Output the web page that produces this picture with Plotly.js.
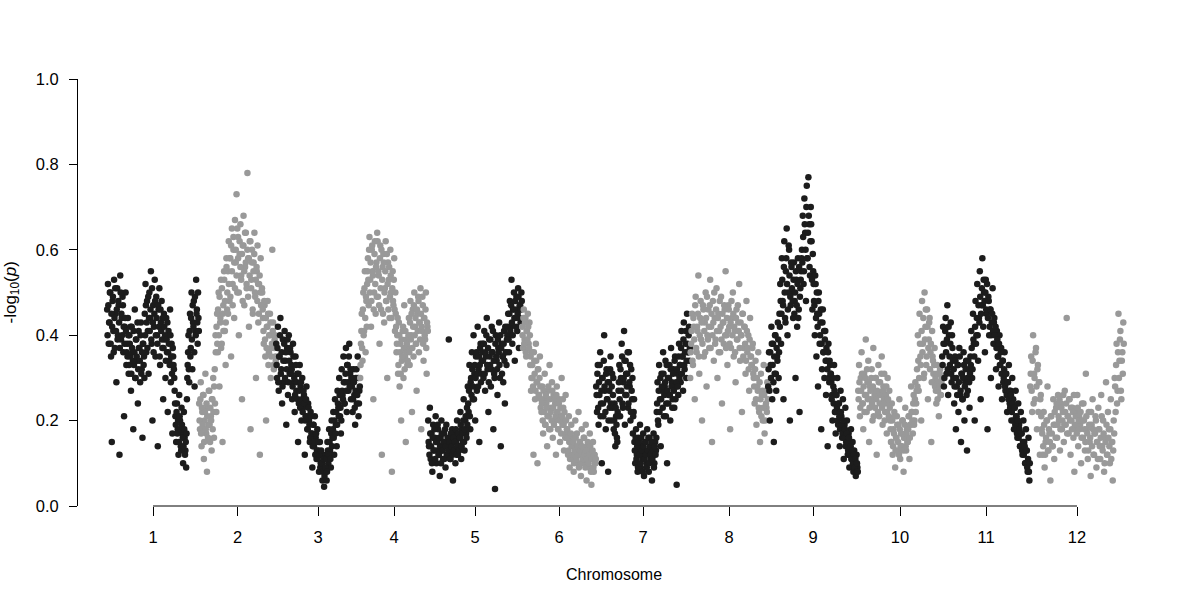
<!DOCTYPE html>
<html>
<head>
<meta charset="utf-8">
<script src="https://cdn.plot.ly/plotly-3.0.1.min.js"></script>
<style>
  html, body { margin: 0; padding: 0; background: #fff; }
  #chart { width: 1197px; height: 604px; }
</style>
</head>
<body>
<div id="chart"></div>
<script>
/* ── Manhattan plot: -log10(p) per SNP, 12 chromosomes ── */

const chrNames = ["1", "2", "3", "4", "5", "6", "7", "8", "9", "10", "11", "12"];
const chrLen   = [92, 77, 84, 68, 94, 74, 94, 78, 90, 84, 88, 94];

// -log10(p), first pass of SNPs (band edges + stray points), in chromosome order
const chr1 = [0.46,0.52,0.38,0.43,0.50,0.35,0.15,0.48,0.41,0.53,0.37,0.45,0.29,0.51,0.40,0.47,0.12,0.54,0.39,0.44,0.49,0.36,0.21,0.42,0.50,0.33,
  0.38,0.44,0.31,0.40,0.35,0.27,0.42,0.36,0.18,0.33,0.46,0.30,0.39,0.34,0.24,0.41,0.37,0.29,0.43,0.32,0.16,0.38,0.35,
  0.45,0.52,0.36,0.48,0.41,0.31,0.50,0.44,0.55,0.38,0.20,0.47,0.42,0.53,0.35,0.49,0.40,0.14,0.46,0.51,0.33,0.43,0.48,0.37,0.25,0.45,0.39,0.30,0.44,0.36,0.22,0.41,0.34,0.46,0.29,0.38,0.17,0.35,0.32,
  0.27,0.21,0.15,0.24,0.18,0.12,0.26,0.20,0.14,0.23,0.17,0.10,0.22,0.16,0.13,0.09,
  0.25,0.33,0.40,0.29,0.45,0.37,0.50,0.32,0.43,0.48,0.28,0.41,0.53,0.46,0.38,0.44];
const chr2 = [0.24,0.18,0.29,0.14,0.22,0.26,0.11,0.20,0.31,0.17,0.08,0.23,0.19,0.27,0.15,0.21,0.13,0.25,0.30,0.16,
  0.32,0.40,0.22,0.45,0.36,0.50,0.28,0.43,0.53,0.38,0.15,0.47,0.55,0.41,0.33,0.58,0.46,
  0.55,0.62,0.48,0.58,0.35,0.65,0.52,0.60,0.44,0.67,0.57,0.73,0.50,0.63,0.40,0.59,0.66,0.54,0.25,0.61,0.68,0.47,0.56,0.64,0.51,0.78,0.58,0.42,0.62,0.18,0.53,0.60,0.45,0.57,0.64,0.49,0.30,0.55,0.61,0.43,0.52,0.12,0.58,0.47,
  0.50,0.44,0.38,0.47,0.35,0.20,0.42,0.48,0.33,0.40,0.45,0.30,0.37,0.60,0.43,0.32,0.39,0.35];
const chr3 = [0.38,0.30,0.42,0.27,0.35,0.44,0.32,0.24,0.39,0.29,0.41,0.34,0.19,0.37,0.26,0.40,0.31,0.36,
  0.33,0.25,0.38,0.29,0.22,0.35,0.27,0.31,0.15,0.24,0.33,0.28,0.20,0.30,0.23,0.26,0.12,0.21,0.28,0.18,0.24,0.20,0.15,0.22,0.17,0.09,0.19,0.14,0.21,0.16,0.11,0.18,0.13,0.08,0.15,0.10,0.12,0.06,0.09,0.045,
  0.08,0.12,0.06,0.15,0.10,0.18,0.13,0.09,0.20,0.16,0.22,0.12,0.25,0.19,0.14,0.27,0.23,0.30,0.21,0.17,0.32,0.26,0.35,0.24,0.29,0.37,0.22,0.33,0.27,0.38,0.31,0.25,
  0.28,0.22,0.32,0.26,0.19,0.30,0.24,0.35,0.21,0.27];
const chr4 = [0.30,0.38,0.45,0.34,0.50,0.41,0.55,0.36,0.48,0.52,
  0.58,0.47,0.63,0.53,0.42,0.60,0.55,0.25,0.50,0.62,0.45,0.57,0.64,0.49,0.54,0.38,0.61,0.46,0.12,0.56,0.59,0.43,0.51,0.62,0.48,0.30,0.57,0.53,0.44,0.60,0.50,0.08,0.55,0.47,0.58,0.41,
  0.45,0.36,0.40,0.31,0.43,0.28,0.38,0.20,0.34,0.41,0.30,0.47,0.35,0.15,0.39,0.33,
  0.37,0.44,0.33,0.48,0.40,0.22,0.46,0.35,0.50,0.42,0.38,0.27,0.45,0.49,0.36,0.43,0.51,0.18,0.41,0.47,0.34,0.44,0.39,0.50,0.31,0.42];
const chr5 = [0.20,0.14,0.23,0.11,0.17,0.08,0.19,0.13,0.16,0.21,0.10,0.15,0.18,0.12,0.07,0.16,0.20,0.13,0.11,0.17,0.14,0.09,0.19,0.15,0.12,0.39,0.16,0.11,0.14,0.18,0.06,0.13,0.17,0.10,0.15,0.20,0.12,0.16,0.14,0.22,0.11,0.18,0.15,0.25,0.13,0.20,0.17,0.23,
  0.28,0.22,0.33,0.18,0.30,0.36,0.25,0.40,0.31,0.20,0.35,0.27,0.42,0.32,0.15,0.37,0.29,0.34,
  0.38,0.30,0.41,0.27,0.35,0.44,0.32,0.22,0.39,0.33,0.28,0.42,0.36,0.18,0.31,0.04,0.40,0.34,0.26,0.37,0.43,0.30,0.14,0.38,0.35,0.29,0.41,0.24,0.36,0.33,
  0.40,0.45,0.36,0.48,0.42,0.53,0.38,0.46,0.50,0.34,0.44,0.49,0.41,0.51,0.37,0.47,0.43,0.50];
const chr6 = [0.42,0.37,0.46,0.39,0.44,0.35,0.41,0.45,0.38,0.43,
  0.33,0.27,0.36,0.30,0.12,0.34,0.25,0.38,0.29,0.10,0.32,0.26,0.35,0.23,
  0.22,0.28,0.17,0.25,0.31,0.19,0.24,0.14,0.27,0.21,0.33,0.18,0.23,0.29,0.16,0.26,0.20,0.24,0.12,0.28,0.22,0.18,0.25,0.15,0.21,0.30,0.19,0.23,0.13,0.20,0.26,0.17,
  0.18,0.12,0.21,0.09,0.15,0.19,0.11,0.16,0.08,0.14,0.20,0.13,0.17,0.10,0.22,0.12,0.15,0.07,0.18,0.13,0.10,0.16,0.11,0.19,0.06,0.14,0.12,0.09,0.17,0.13,0.05,0.11,0.15,0.08,0.12,0.10];
const chr7 = [0.28,0.22,0.33,0.19,0.26,0.36,0.24,0.10,0.30,0.21,0.40,0.27,0.18,0.32,0.25,0.08,0.29,0.23,0.35,0.20,0.31,0.26,
  0.18,0.24,0.14,0.21,0.16,0.22,
  0.27,0.33,0.21,0.30,0.38,0.24,0.29,0.41,0.19,0.34,0.26,0.31,0.23,0.36,0.28,0.20,0.32,0.25,0.17,0.22,
  0.15,0.10,0.18,0.12,0.08,0.16,0.13,0.19,0.09,0.14,0.11,0.17,0.07,0.12,0.15,0.10,0.18,0.13,0.08,0.16,0.11,0.14,0.06,0.12,0.17,0.10,0.15,0.13,
  0.22,0.29,0.19,0.33,0.25,0.14,0.31,0.27,0.36,0.21,0.28,0.34,0.24,0.10,0.30,0.26,0.33,0.20,0.37,0.29,0.25,0.32,0.23,0.35,0.28,0.05,0.31,0.26,0.38,0.33,0.29,0.41,0.35,0.27,0.43,0.32,0.38,0.30,0.45,0.36,0.40,0.34];
const chr8 = [0.30,0.38,0.45,0.33,0.42,0.25,0.49,0.36,0.41,0.54,0.31,0.44,0.39,0.20,0.47,0.35,0.43,0.50,0.28,0.40,0.46,0.37,0.53,0.42,0.15,0.48,0.34,0.44,0.39,0.51,0.30,0.45,0.41,0.36,0.49,0.24,0.43,0.38,0.46,0.55,0.40,0.33,0.47,0.42,0.18,0.37,0.44,0.50,0.35,0.41,0.29,0.46,0.39,0.43,0.52,0.34,0.40,0.22,0.45,0.37,0.42,0.31,0.48,0.36,0.40,0.27,0.44,0.35,0.33,0.38,
  0.30,0.24,0.34,0.19,0.28,0.36,0.22,0.15,0.31,0.26,0.20,0.33,0.17,0.27,0.23,0.29];
const chr9 = [0.28,0.36,0.20,0.33,0.42,0.25,0.38,0.15,0.31,0.40,0.27,0.35,0.43,0.30,
  0.45,0.52,0.38,0.58,0.48,0.25,0.62,0.44,0.55,0.65,0.40,0.50,0.60,0.20,0.47,0.56,
  0.50,0.44,0.57,0.48,0.30,0.53,0.42,0.58,0.46,0.22,0.51,0.55,
  0.60,0.68,0.52,0.72,0.64,0.48,0.75,0.58,0.77,0.66,0.54,0.70,0.62,0.46,
  0.55,0.48,0.40,0.52,0.35,0.45,0.28,0.50,0.38,0.43,0.18,0.32,0.46,0.36,0.30,0.41,0.26,0.34,0.14,0.38,0.29,0.33,
  0.31,0.25,0.20,0.28,0.33,0.22,0.17,0.26,0.30,0.19,0.24,0.14,0.27,0.21,0.16,0.25,0.11,0.19,0.23,0.15,0.20,0.12,0.17,0.09,0.14,0.18,0.11,0.15,0.08,0.13,0.10,0.07,0.12,0.09];
const chr10 = [0.27,0.33,0.21,0.30,0.36,0.24,0.18,0.31,0.26,0.39,0.22,0.29,0.34,0.15,0.28,0.25,0.32,0.20,0.37,0.27,0.23,0.30,0.12,0.26,0.33,0.21,0.29,0.24,0.35,0.19,0.28,0.31,0.22,0.26,0.17,0.30,0.24,0.27,
  0.20,0.15,0.24,0.12,0.18,0.22,0.09,0.16,0.21,0.13,0.19,0.25,0.11,0.17,0.14,0.20,0.08,0.16,0.23,0.13,0.18,0.15,0.21,0.11,0.19,0.28,
  0.22,0.17,0.26,0.20,0.29,0.24,
  0.32,0.40,0.27,0.45,0.35,0.20,0.48,0.38,0.30,0.50,0.42,0.33,0.46,0.25,0.39,0.44,0.36,0.15,0.41,0.34,0.29,0.37,
  0.30,0.24,0.33,0.27,0.21,0.31,0.26,0.29];
const chr11 = [0.35,0.42,0.28,0.38,0.44,0.31,0.47,0.26,0.40,0.33,0.43,0.29,0.37,
  0.30,0.24,0.35,0.18,0.28,0.33,0.22,0.37,0.26,0.15,0.31,0.25,0.36,0.20,0.29,0.34,0.13,0.27,0.32,0.23,
  0.35,0.41,0.30,0.45,0.38,0.20,0.48,0.40,0.52,0.34,0.44,0.55,0.25,0.47,0.58,0.42,0.50,0.36,0.53,0.45,0.18,0.49,0.40,0.46,0.30,0.43,0.51,0.38,
  0.44,0.38,0.32,0.41,0.35,0.28,0.40,0.33,0.37,0.25,0.34,0.30,0.36,0.27,0.31,0.22,0.29,0.33,0.24,0.27,0.20,0.30,0.25,0.18,0.23,0.27,0.21,0.16,0.24,0.19,0.14,0.22,0.17,0.12,0.20,0.15,0.10,0.18,0.13,0.08,0.16,0.06];
const chr12 = [0.28,0.35,0.22,0.40,0.31,0.25,0.37,0.18,0.33,0.29,0.12,0.26,
  0.18,0.12,0.22,0.09,0.15,0.20,0.28,0.13,0.17,0.06,0.21,0.14,0.25,0.11,0.19,0.23,0.16,0.26,0.20,0.13,0.24,0.18,0.22,0.15,0.27,0.19,0.44,0.21,0.17,0.25,0.12,0.20,0.23,0.16,0.08,0.22,0.18,0.26,0.14,0.21,0.19,0.10,0.24,0.16,0.20,0.13,0.31,0.18,0.11,0.22,0.15,0.07,0.19,0.25,0.12,0.17,0.21,0.09,0.15,0.23,0.18,0.11,0.26,0.14,0.20,0.08,0.16,0.29,0.12,0.22,0.18,0.10,0.25,0.15,0.06,0.20,
  0.30,0.22,0.38,0.27,0.45,0.34,0.41,0.25,0.36,0.43];

// second pass of SNPs (dense core of each band), same chromosome order
const chr1b = [0.40,0.47,0.43,0.50,0.38,0.45,0.42,0.49,0.36,0.44,0.51,0.41,0.46,0.39,0.48,0.43,0.37,0.50,0.45,0.40,0.47,0.42,0.38,0.44,0.41,0.36,
  0.35,0.40,0.33,0.38,0.42,0.31,0.37,0.34,0.41,0.36,0.30,0.39,0.35,0.43,0.32,0.37,0.34,0.40,0.31,0.36,0.38,0.33,0.30,
  0.40,0.47,0.43,0.37,0.49,0.44,0.41,0.46,0.39,0.51,0.43,0.36,0.45,0.48,0.40,0.44,0.38,0.47,0.42,0.35,0.46,0.41,0.39,0.44,0.37,0.42,0.40,0.34,0.39,0.43,0.36,0.38,0.33,0.40,0.35,0.31,0.37,0.33,0.30,
  0.24,0.19,0.22,0.17,0.20,0.15,0.21,0.18,0.13,0.19,0.16,0.14,0.18,0.12,0.15,0.17,
  0.30,0.36,0.32,0.41,0.35,0.44,0.39,0.47,0.42,0.36,0.49,0.40,0.45,0.43,0.50,0.41];
const chr2b = [0.20,0.25,0.17,0.23,0.19,0.26,0.15,0.22,0.18,0.24,0.21,0.16,0.27,0.19,0.23,0.20,0.25,0.18,0.22,0.28,0.24,
  0.36,0.42,0.38,0.46,0.40,0.49,0.44,0.37,0.51,0.45,0.41,0.53,0.48,0.43,0.56,0.50,0.45,
  0.52,0.58,0.49,0.61,0.55,0.47,0.63,0.57,0.51,0.60,0.54,0.65,0.58,0.50,0.62,0.56,0.53,0.59,0.48,0.61,0.55,0.64,0.57,0.52,0.60,0.49,0.58,0.54,0.62,0.51,0.57,0.46,0.55,0.59,0.50,0.53,0.56,0.48,0.52,0.45,0.54,0.50,0.47,0.51,
  0.46,0.41,0.48,0.39,0.44,0.37,0.42,0.45,0.36,0.40,0.43,0.35,0.38,0.41,0.33,0.37,0.40,0.34];
const chr3b = [0.33,0.37,0.29,0.35,0.40,0.31,0.36,0.28,0.34,0.38,0.30,0.36,0.32,0.39,0.29,0.34,0.37,0.31,
  0.32,0.28,0.35,0.30,0.26,0.33,0.29,0.25,0.31,0.27,0.23,0.29,0.25,0.22,0.27,0.24,0.20,0.25,0.21,0.18,0.23,0.19,0.16,0.21,0.17,0.14,0.19,0.15,0.12,0.17,0.13,0.11,0.15,0.12,0.09,0.13,0.10,0.08,0.11,0.07,
  0.09,0.11,0.08,0.13,0.12,0.15,0.11,0.17,0.14,0.18,0.16,0.20,0.17,0.22,0.19,0.24,0.21,0.26,0.23,0.20,0.27,0.25,0.29,0.24,0.31,0.27,0.33,0.29,0.35,0.28,0.32,0.30,
  0.30,0.25,0.29,0.23,0.27,0.32,0.26,0.30,0.24,0.28];
const chr4b = [0.33,0.41,0.37,0.46,0.40,0.51,0.44,0.49,0.42,0.55,
  0.53,0.60,0.50,0.57,0.48,0.61,0.54,0.46,0.59,0.52,0.56,0.49,0.62,0.55,0.47,0.58,0.51,0.60,0.53,0.45,0.57,0.50,0.55,0.48,0.59,0.52,0.46,0.56,0.49,0.54,0.44,0.51,0.48,0.53,0.46,0.50,
  0.42,0.38,0.44,0.33,0.40,0.36,0.31,0.39,0.35,0.42,0.37,0.32,0.41,0.36,0.38,0.34,
  0.40,0.36,0.43,0.39,0.45,0.37,0.42,0.47,0.40,0.44,0.38,0.46,0.41,0.48,0.43,0.39,0.45,0.42,0.49,0.38,0.44,0.40,0.46,0.37,0.43,0.41];
const chr5b = [0.15,0.12,0.17,0.14,0.10,0.16,0.13,0.18,0.11,0.15,0.13,0.19,0.12,0.16,0.14,0.10,0.17,0.13,0.15,0.11,0.18,0.14,0.12,0.16,0.13,0.15,0.11,0.17,0.14,0.12,0.16,0.13,0.15,0.18,0.12,0.14,0.17,0.13,0.16,0.19,0.14,0.17,0.20,0.15,0.18,0.21,0.16,0.19,
  0.24,0.27,0.21,0.29,0.26,0.32,0.28,0.25,0.33,0.30,0.36,0.31,0.28,0.35,0.33,0.38,0.31,0.36,
  0.34,0.38,0.31,0.36,0.40,0.33,0.37,0.29,0.35,0.39,0.32,0.36,0.41,0.34,0.30,0.38,0.35,0.32,0.39,0.36,0.33,0.40,0.37,0.31,0.35,0.38,0.34,0.42,0.36,0.39,
  0.42,0.39,0.45,0.41,0.47,0.43,0.40,0.46,0.44,0.48,0.42,0.46,0.45,0.49,0.44,0.47,0.46,0.48];
const chr6b = [0.40,0.44,0.38,0.43,0.36,0.41,0.39,0.42,0.37,0.40,
  0.35,0.30,0.33,0.28,0.36,0.31,0.27,0.34,0.29,0.32,0.26,0.30,0.28,0.25,
  0.24,0.20,0.27,0.22,0.19,0.26,0.23,0.21,0.28,0.18,0.25,0.22,0.20,0.27,0.23,0.19,0.25,0.21,0.26,0.22,0.18,0.24,0.20,0.23,0.17,0.21,0.25,0.19,0.22,0.16,0.20,0.18,
  0.16,0.13,0.15,0.11,0.17,0.14,0.12,0.15,0.10,0.13,0.16,0.11,0.14,0.12,0.09,0.15,0.13,0.10,0.14,0.11,0.16,0.12,0.09,0.13,0.11,0.15,0.10,0.12,0.14,0.08,0.11,0.13,0.09,0.12,0.10,0.11];
const chr7b = [0.26,0.31,0.23,0.29,0.33,0.21,0.27,0.30,0.24,0.34,0.28,0.22,0.31,0.25,0.29,0.20,0.27,0.32,0.24,0.28,0.23,0.30,
  0.20,0.17,0.23,0.19,0.15,0.21,
  0.29,0.25,0.32,0.27,0.35,0.23,0.30,0.34,0.26,0.31,0.28,0.36,0.24,0.29,0.33,0.22,0.27,0.30,0.21,0.25,
  0.13,0.16,0.11,0.14,0.09,0.15,0.12,0.10,0.16,0.13,0.08,0.14,0.11,0.15,0.12,0.09,0.13,0.16,0.10,0.14,0.12,0.15,0.11,0.13,0.09,0.14,0.12,0.16,
  0.24,0.20,0.27,0.22,0.30,0.25,0.28,0.23,0.31,0.26,0.29,0.21,0.33,0.27,0.24,0.30,0.26,0.32,0.28,0.23,0.31,0.27,0.34,0.25,0.29,0.32,0.28,0.35,0.30,0.33,0.37,0.31,0.35,0.39,0.33,0.36,0.41,0.34,0.38,0.36,0.42,0.37];
const chr8b = [0.36,0.41,0.34,0.44,0.39,0.47,0.37,0.42,0.45,0.35,0.40,0.48,0.43,0.38,0.46,0.41,0.36,0.44,0.49,0.39,0.42,0.47,0.37,0.45,0.40,0.43,0.50,0.38,0.46,0.41,0.44,0.36,0.48,0.42,0.39,0.45,0.43,0.47,0.40,0.37,0.44,0.41,0.46,0.38,0.43,0.48,0.40,0.45,0.42,0.36,0.44,0.39,0.47,0.41,0.37,0.43,0.40,0.45,0.35,0.42,0.38,0.34,0.41,0.37,0.32,0.39,0.35,0.33,0.37,0.31,
  0.28,0.32,0.25,0.30,0.27,0.23,0.29,0.25,0.21,0.27,0.23,0.26,0.20,0.24,0.22,0.25];
const chr9b = [0.32,0.27,0.36,0.30,0.38,0.33,0.29,0.35,0.40,0.31,0.37,0.34,0.39,0.36,
  0.42,0.48,0.45,0.53,0.47,0.56,0.50,0.43,0.58,0.52,0.46,0.61,0.54,0.49,0.57,0.51,
  0.48,0.53,0.45,0.50,0.55,0.47,0.52,0.44,0.56,0.49,0.53,0.58,
  0.57,0.63,0.55,0.66,0.60,0.70,0.58,0.64,0.68,0.56,0.62,0.66,0.53,0.59,
  0.52,0.47,0.54,0.44,0.50,0.42,0.48,0.45,0.40,0.46,0.38,0.43,0.36,0.41,0.39,0.34,0.37,0.32,0.36,0.30,0.34,0.31,
  0.29,0.26,0.30,0.24,0.27,0.22,0.26,0.23,0.20,0.24,0.21,0.18,0.22,0.19,0.17,0.20,0.16,0.18,0.14,0.17,0.15,0.13,0.16,0.12,0.14,0.11,0.13,0.10,0.12,0.09,0.11,0.08,0.10,0.08];
const chr10b = [0.25,0.29,0.23,0.27,0.31,0.24,0.28,0.22,0.30,0.26,0.32,0.25,0.29,0.23,0.27,0.30,0.24,0.28,0.21,0.26,0.30,0.25,0.27,0.22,0.29,0.24,0.26,0.31,0.23,0.27,0.25,0.20,0.24,0.28,0.22,0.25,0.21,0.23,
  0.18,0.15,0.20,0.14,0.17,0.21,0.13,0.16,0.19,0.15,0.12,0.18,0.14,0.17,0.20,0.13,0.16,0.19,0.14,0.17,0.15,0.18,0.21,0.16,0.19,0.22,
  0.20,0.24,0.19,0.25,0.22,0.27,
  0.28,0.34,0.30,0.38,0.33,0.41,0.36,0.44,0.31,0.39,0.46,0.35,0.42,0.37,0.43,0.32,0.38,0.29,0.35,0.31,0.33,0.28,
  0.27,0.31,0.25,0.29,0.28,0.32,0.26,0.30];
const chr11b = [0.33,0.38,0.30,0.41,0.36,0.39,0.32,0.42,0.35,0.38,0.31,0.40,0.34,
  0.32,0.28,0.34,0.30,0.26,0.33,0.29,0.35,0.27,0.31,0.25,0.30,0.33,0.28,0.32,0.26,0.30,0.34,0.29,0.31,
  0.33,0.37,0.32,0.39,0.35,0.42,0.38,0.44,0.40,0.47,0.43,0.49,0.45,0.51,0.47,0.53,0.48,0.50,0.46,0.52,0.44,0.48,0.42,0.46,0.40,0.45,0.41,0.43,
  0.40,0.42,0.37,0.39,0.35,0.38,0.33,0.36,0.31,0.34,0.29,0.32,0.28,0.31,0.26,0.29,0.25,0.27,0.23,0.26,0.22,0.24,0.20,0.23,0.19,0.21,0.17,0.20,0.16,0.18,0.14,0.17,0.13,0.15,0.12,0.14,0.10,0.13,0.09,0.11,0.08,0.10];
const chr12b = [0.31,0.27,0.34,0.24,0.30,0.36,0.28,0.32,0.22,0.29,0.25,0.21,
  0.17,0.14,0.19,0.12,0.16,0.20,0.13,0.18,0.15,0.21,0.17,0.14,0.19,0.22,0.16,0.24,0.19,0.21,0.25,0.18,0.23,0.20,0.26,0.19,0.22,0.24,0.17,0.21,0.25,0.20,0.23,0.18,0.22,0.26,0.19,0.21,0.17,0.23,0.20,0.18,0.22,0.16,0.20,0.24,0.18,0.15,0.21,0.17,0.13,0.19,0.16,0.22,0.14,0.18,0.12,0.17,0.20,0.15,0.11,0.18,0.14,0.16,0.21,0.13,0.17,0.10,0.15,0.19,0.12,0.16,0.14,0.18,0.11,0.15,0.13,0.17,
  0.28,0.33,0.24,0.36,0.30,0.39,0.27,0.34,0.31,0.38];

const chrValues  = [chr1, chr2, chr3, chr4, chr5, chr6, chr7, chr8, chr9, chr10, chr11, chr12];
const chrValuesB = [chr1b, chr2b, chr3b, chr4b, chr5b, chr6b, chr7b, chr8b, chr9b, chr10b, chr11b, chr12b];
const yTicks     = [0, 0.2, 0.4, 0.6, 0.8, 1.0];

const DARK = "#1c1c1c";
const GREY = "#999999";

/* ── cumulative positions ── */
const starts = [];
let acc = 0;
chrLen.forEach(l => { starts.push(acc); acc += l; });
const centers = chrLen.map((l, i) => starts[i] + l / 2);

// SNPs are spread evenly along their chromosome, the two passes interleaved
const spread = (vals, i, off) => vals.map((v, j) => starts[i] + (j + off) * chrLen[i] / vals.length);

const traces = chrValues.map((vals, i) => {
  const valsB = chrValuesB[i];
  return {
    type: "scatter",
    mode: "markers",
    x: spread(vals, i, 0.25).concat(spread(valsB, i, 0.75)),
    y: vals.concat(valsB),
    marker: { color: i % 2 === 0 ? DARK : GREY, size: 6.5, line: { width: 0 } },
    showlegend: false,
    hoverinfo: "skip",
  };
});

const FAMILY   = "Liberation Sans, Arial, sans-serif";
const tickFont = { family: FAMILY, size: 16.5, color: "#000" };
const labFont  = { family: FAMILY, size: 16, color: "#000" };

const layout = {
  width: 1197, height: 604,
  paper_bgcolor: "#fff",
  plot_bgcolor: "#fff",
  margin: { l: 78, r: 47, t: 79, b: 98 },
  font: labFont,
  xaxis: {
    range: [-29, 1043],
    showgrid: false, zeroline: false, showline: false,
    tickmode: "array", tickvals: centers, ticktext: chrNames,
    ticks: "outside", ticklen: 9, tickwidth: 1, tickcolor: "#000",
    ticklabelstandoff: 7,
    tickfont: tickFont,
  },
  yaxis: {
    range: [0, 1],
    showgrid: false, zeroline: false,
    showline: true, linecolor: "#000", linewidth: 1,
    tickmode: "array", tickvals: yTicks, ticktext: yTicks.map(v => v.toFixed(1)),
    ticks: "outside", ticklen: 8, tickwidth: 1, tickcolor: "#000",
    ticklabelstandoff: 7,
    tickfont: tickFont,
  },
  shapes: [
    { type: "line", xref: "x", yref: "paper",
      x0: centers[0], x1: centers[centers.length - 1], y0: 0, y1: 0,
      line: { color: "#000", width: 1 } },
  ],
  annotations: [
    { xref: "paper", yref: "paper", x: 0.5, y: 0, yshift: -68,
      text: "Chromosome", showarrow: false, font: labFont, yanchor: "middle" },
    { xref: "paper", yref: "paper", x: 0, y: 0.5, xshift: -67,
      text: "-log<sub>10</sub>(<i>p</i>)", showarrow: false, textangle: -90,
      font: { family: FAMILY, size: 17, color: "#000" }, xanchor: "center", yanchor: "middle" },
  ],
};

Plotly.newPlot("chart", traces, layout, { displayModeBar: false, staticPlot: true });
</script>
</body>
</html>
